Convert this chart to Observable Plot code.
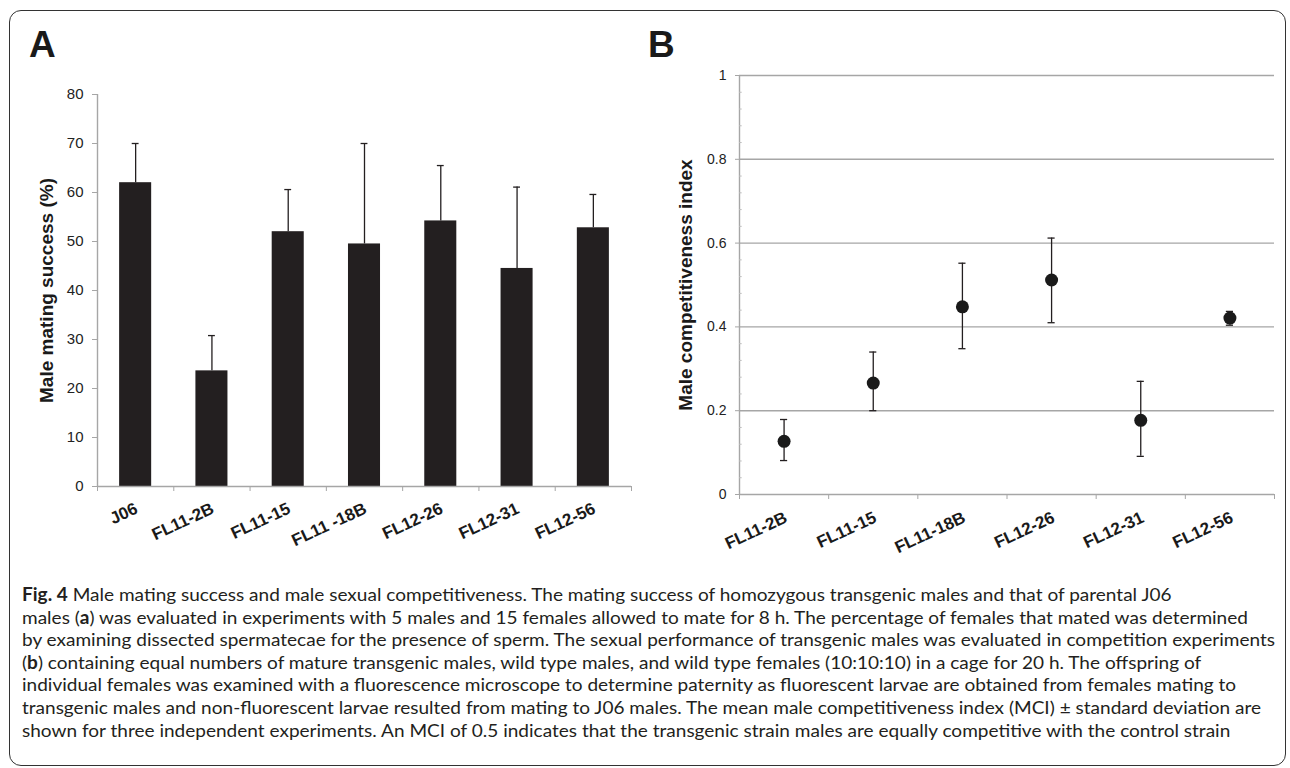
<!DOCTYPE html>
<html><head><meta charset="utf-8">
<script src="https://cdn.jsdelivr.net/npm/d3@7"></script>
<script src="https://cdn.jsdelivr.net/npm/@observablehq/plot@0.6"></script>
<style>
html,body{margin:0;padding:0;background:#fff;}
body{width:1290px;height:768px;overflow:hidden;position:relative;font-family:Arial,"Liberation Sans",sans-serif;}
#frame{position:absolute;left:9px;top:10px;width:1277px;height:756px;border:1.5px solid #333;border-radius:12px;box-sizing:border-box;}
.plabel{position:absolute;font-weight:bold;font-size:37px;color:#1a1a1a;line-height:1;}
#chartA{position:absolute;left:0;top:60px;}
#chartB{position:absolute;left:650px;top:50px;}
#caption{position:absolute;left:22px;top:583px;font-family:Lato,"Open Sans",Arial,sans-serif;font-size:18px;line-height:22.6px;color:#231f20;transform-origin:0 0;}
#caption div{white-space:nowrap;}
</style></head>
<body>
<div id="frame"></div>
<div class="plabel" style="left:29px;top:26px;">A</div>
<div class="plabel" style="left:648px;top:26px;">B</div>
<div id="chartA"></div>
<div id="chartB"></div>
<div id="caption">
<div id="capl1"><b>Fig. 4</b> Male mating success and male sexual competitiveness. The mating success of homozygous transgenic males and that of parental J06</div>
<div>males (<b>a</b>) was evaluated in experiments with 5 males and 15 females allowed to mate for 8 h. The percentage of females that mated was determined</div>
<div id="capl3">by examining dissected spermatecae for the presence of sperm. The sexual performance of transgenic males was evaluated in competition experiments</div>
<div>(<b>b</b>) containing equal numbers of mature transgenic males, wild type males, and wild type females (10:10:10) in a cage for 20 h. The offspring of</div>
<div>individual females was examined with a fluorescence microscope to determine paternity as fluorescent larvae are obtained from females mating to</div>
<div>transgenic males and non-fluorescent larvae resulted from mating to J06 males. The mean male competitiveness index (MCI) ± standard deviation are</div>
<div>shown for three independent experiments. An MCI of 0.5 indicates that the transgenic strain males are equally competitive with the control strain</div>
</div>
<script>
// ---- Panel A data ----
const strainsA = ["J06", "FL11-2B", "FL11-15", "FL11 -18B", "FL12-26", "FL12-31", "FL12-56"];
const successA = [62.0, 23.6, 52.0, 49.5, 54.2, 44.5, 52.8];
const successUpperA = [70.0, 30.8, 60.6, 70.0, 65.5, 61.1, 59.6];
const ticksA = [0, 10, 20, 30, 40, 50, 60, 70, 80];
const labelA = "Male mating success (%)";

// ---- Panel B data ----
const strainsB = ["FL11-2B", "FL11-15", "FL11-18B", "FL12-26", "FL12-31", "FL12-56"];
const mciB = [0.127, 0.266, 0.448, 0.512, 0.177, 0.421];
const mciLowB = [0.081, 0.200, 0.348, 0.410, 0.091, 0.404];
const mciHighB = [0.179, 0.340, 0.552, 0.612, 0.270, 0.437];
const ticksB = [0, 0.2, 0.4, 0.6, 0.8, 1];
const minorTicksB = [0.04,0.08,0.12,0.16,0.24,0.28,0.32,0.36,0.44,0.48,0.52,0.56,0.64,0.68,0.72,0.76,0.84,0.88,0.92,0.96];
const labelB = "Male competitiveness index";

const dataA = strainsA.map((s, i) => ({s, i, v: successA[i], hi: successUpperA[i]}));
const dataB = strainsB.map((s, i) => ({s, i, v: mciB[i], lo: mciLowB[i], hi: mciHighB[i]}));

const axisGray = "#a6a6a6";
const ink = "#231f20";
const font = "Arial, 'Liberation Sans', Helvetica, sans-serif";

const chartA = Plot.plot({
  width: 650, height: 500,
  marginLeft: 97, marginRight: 19, marginTop: 34, marginBottom: 74,
  x: {type: "linear", domain: [0, strainsA.length], axis: null},
  y: {domain: [0, 80], axis: null},
  style: {fontFamily: font, color: "#222", background: "transparent", overflow: "visible"},
  marks: [
    Plot.rectY(dataA, {x1: d => d.i + 0.29, x2: d => d.i + 0.71, y: "v", fill: ink}),
    Plot.ruleX(dataA, {x: d => d.i + 0.5, y1: "v", y2: "hi", stroke: ink, strokeWidth: 1.3}),
    Plot.ruleY(dataA, {y: "hi", x1: d => d.i + 0.455, x2: d => d.i + 0.545, stroke: ink, strokeWidth: 1.3}),
    Plot.ruleX([0], {stroke: axisGray, strokeWidth: 1.4}),
    Plot.ruleY([0], {stroke: axisGray, strokeWidth: 1.4}),
    Plot.axisY({ticks: ticksA, tickSize: 5, tickPadding: 9, fontSize: 15, stroke: axisGray, fill: "#222"}),
    Plot.axisX({ticks: d3.range(strainsA.length + 1), tickSize: 5, tickFormat: () => "", stroke: axisGray}),
    Plot.axisX({ticks: strainsA.map((_, i) => i + 0.5), tickFormat: t => strainsA[Math.floor(t)],
      tickSize: 0, tickPadding: 21, tickRotate: -25, fontSize: 17, fontWeight: "bold", fill: "#1a1a1a", dx: 1}),
    Plot.text([labelA], {text: d => d, frameAnchor: "left", textAnchor: "middle", rotate: -90, dx: -51, fontSize: 19, fontWeight: "bold", fill: "#1a1a1a"})
  ]
});
document.getElementById("chartA").append(chartA);

const chartB = Plot.plot({
  width: 640, height: 500,
  marginLeft: 89, marginRight: 16, marginTop: 25, marginBottom: 56,
  x: {type: "linear", domain: [0, strainsB.length], axis: null},
  y: {domain: [0, 1], axis: null},
  style: {fontFamily: font, color: "#222", background: "transparent", overflow: "visible"},
  marks: [
    Plot.ruleY(ticksB, {stroke: axisGray, strokeWidth: 1.4}),
    Plot.ruleX([0], {stroke: axisGray, strokeWidth: 1.4}),
    Plot.ruleY(minorTicksB, {y: d => d, x1: 0, x2: 0.03, stroke: "#bdbdbd"}),
    Plot.axisY({ticks: ticksB, tickSize: 4, tickPadding: 9, fontSize: 14, stroke: axisGray, fill: "#222", tickFormat: d3.format("")}),
    Plot.axisX({ticks: d3.range(strainsB.length + 1), tickSize: 5, tickFormat: () => "", stroke: axisGray}),
    Plot.ruleX(dataB, {x: d => d.i + 0.5, y1: "lo", y2: "hi", stroke: ink, strokeWidth: 1.3}),
    Plot.ruleY(dataB, {y: "hi", x1: d => d.i + 0.46, x2: d => d.i + 0.54, stroke: ink, strokeWidth: 1.3}),
    Plot.ruleY(dataB, {y: "lo", x1: d => d.i + 0.46, x2: d => d.i + 0.54, stroke: ink, strokeWidth: 1.3}),
    Plot.dot(dataB, {x: d => d.i + 0.5, y: "v", r: 6.5, fill: "#1a1a1a", stroke: "none"}),
    Plot.axisX({ticks: strainsB.map((_, i) => i + 0.5), tickFormat: t => strainsB[Math.floor(t)],
      tickSize: 0, tickPadding: 22, tickRotate: -25, fontSize: 17, fontWeight: "bold", fill: "#1a1a1a", dx: 2}),
    Plot.text([labelB], {text: d => d, frameAnchor: "left", textAnchor: "middle", rotate: -90, dx: -54, fontSize: 19, fontWeight: "bold", fill: "#1a1a1a"})
  ]
});
document.getElementById("chartB").append(chartB);

const cap = document.getElementById("caption");
const l3 = document.getElementById("capl3");
const w = l3.getBoundingClientRect().width;
cap.style.transform = `scaleX(${1253 / w})`;
</script>
</body></html>
